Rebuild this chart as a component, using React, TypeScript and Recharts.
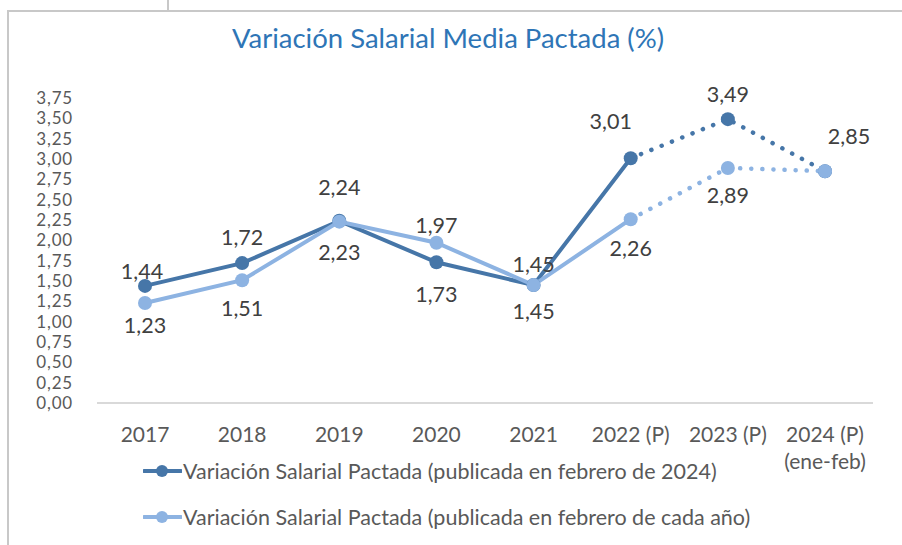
import { LineChart, Line, XAxis, YAxis, LabelList } from "recharts";

const categories = ["2017", "2018", "2019", "2020", "2021", "2022 (P)", "2023 (P)", "2024 (P)\n(ene-feb)"];
const publishedFeb2024 = [1.44, 1.72, 2.24, 1.73, 1.45, 3.01, 3.49, 2.85];
const publishedEachFeb = [1.23, 1.51, 2.23, 1.97, 1.45, 2.26, 2.89, 2.85];
const yTicks = [0, 0.25, 0.5, 0.75, 1, 1.25, 1.5, 1.75, 2, 2.25, 2.5, 2.75, 3, 3.25, 3.5, 3.75];
const lastActual = 5; // index of 2022: from here the line turns dotted

const DARK = "#4676A8";
const LIGHT = "#8DB3E2";
const TEXT = "#404040";
const FONT = "Lato, 'Open Sans', sans-serif";

const data = categories.map((cat, i) => ({
  cat,
  dark: publishedFeb2024[i],
  darkSolid: i <= lastActual ? publishedFeb2024[i] : null,
  darkDot: i >= lastActual ? publishedFeb2024[i] : null,
  light: publishedEachFeb[i],
  lightSolid: i <= lastActual ? publishedEachFeb[i] : null,
  lightDot: i >= lastActual ? publishedEachFeb[i] : null,
}));

// label nudges (dx, dy from the point), like the hand-placed excel labels
const darkLabelShift: [number, number][] = [
  [-3, -15], [0, -26], [0, -34], [0, 32], [0, -21], [-20, -37], [0, -25], [24, -35],
];
const lightLabelShift: ([number, number] | null)[] = [
  [0, 22], [0, 28], [0, 30], [0, -18], [0, 26], [0, 29], [0, 27], null,
];

const fmt = (v: number) => v.toFixed(2).replace(".", ",");

const makeLabel = (shifts: ([number, number] | null)[]) => (props: any) => {
  const { x, y, value, index } = props;
  const s = shifts[index];
  if (!s || value == null) return null;
  return (
    <text
      x={x + s[0]}
      y={y + s[1]}
      textAnchor="middle"
      dominantBaseline="central"
      fontSize={21.5}
      fontFamily={FONT}
      fill={TEXT}
    >
      {fmt(value)}
    </text>
  );
};

const XTick = (props: any) => {
  const { x, y, payload } = props;
  const lines = String(payload.value).split("\n");
  return (
    <text x={x} y={y} textAnchor="middle" fontSize={21} fontFamily={FONT} fill="#595959">
      {lines.map((l, i) => (
        <tspan key={i} x={x} dy={i === 0 ? "0.71em" : "1.3em"}>
          {l}
        </tspan>
      ))}
    </text>
  );
};

const LegendRow = ({ color, label, top }: { color: string; label: string; top: number }) => (
  <div style={{ position: "absolute", left: 143, top, height: 24, display: "flex", alignItems: "center" }}>
    <svg width={39} height={24} style={{ flex: "none" }}>
      <line x1={1} y1={12} x2={38} y2={12} stroke={color} strokeWidth={4} strokeLinecap="round" />
      <circle cx={19} cy={12} r={6} fill={color} />
    </svg>
    <span style={{ fontFamily: FONT, fontSize: 21.5, color: "#595959", marginLeft: 1, whiteSpace: "nowrap" }}>
      {label}
    </span>
  </div>
);

export default function App() {
  return (
    <div style={{ position: "absolute", left: 0, top: 0, width: 902, height: 545, background: "#fff", overflow: "hidden" }}>
      {/* frame lines */}
      <div style={{ position: "absolute", left: 7, top: 10, width: 900, height: 540, borderLeft: "2px solid #C8C8C8", borderTop: "2px solid #C8C8C8" }} />
      <div style={{ position: "absolute", left: 167, top: 0, width: 2, height: 11, background: "#C8C8C8" }} />

      <div
        style={{
          position: "absolute",
          left: 0,
          width: 896,
          top: 24,
          textAlign: "center",
          fontFamily: FONT,
          fontSize: 27.5,
          lineHeight: "27.5px",
          color: "#2E75B6",
          whiteSpace: "nowrap",
        }}
      >
        Variación Salarial Media Pactada (%)
      </div>

      <LineChart width={902} height={545} data={data} margin={{ top: 98, right: 29, bottom: 82, left: 0 }}>
        <XAxis
          dataKey="cat"
          interval={0}
          padding={{ left: 48, right: 48 }}
          axisLine={{ stroke: "#D9D9D9", strokeWidth: 2 }}
          tickLine={false}
          tickSize={6}
          tickMargin={18}
          height={60}
          tick={<XTick />}
        />
        <YAxis
          width={97}
          domain={[0, 3.75]}
          ticks={yTicks}
          interval={0}
          axisLine={false}
          tickLine={false}
          tickMargin={18}
          tickFormatter={fmt}
          tick={{ fontSize: 17, fontFamily: FONT, fill: "#595959", letterSpacing: 0.8 }}
        />

        <Line dataKey="darkSolid" stroke={DARK} strokeWidth={4} dot={false} activeDot={false} isAnimationActive={false} />
        <Line
          dataKey="darkDot"
          stroke={DARK}
          strokeWidth={4.5}
          strokeDasharray="0.1 11"
          strokeLinecap="round"
          dot={false}
          activeDot={false}
          isAnimationActive={false}
        />
        <Line dataKey="dark" stroke="none" dot={{ r: 7, fill: DARK, stroke: DARK, strokeWidth: 0 }} activeDot={false} isAnimationActive={false}>
          <LabelList dataKey="dark" content={makeLabel(darkLabelShift)} />
        </Line>

        <Line dataKey="lightSolid" stroke={LIGHT} strokeWidth={4} dot={false} activeDot={false} isAnimationActive={false} />
        <Line
          dataKey="lightDot"
          stroke={LIGHT}
          strokeWidth={4.5}
          strokeDasharray="0.1 11"
          strokeLinecap="round"
          dot={false}
          activeDot={false}
          isAnimationActive={false}
        />
        <Line dataKey="light" stroke="none" dot={{ r: 7, fill: LIGHT, stroke: LIGHT, strokeWidth: 0 }} activeDot={false} isAnimationActive={false}>
          <LabelList dataKey="light" content={makeLabel(lightLabelShift)} />
        </Line>
      </LineChart>

      <LegendRow color={DARK} label="Variación Salarial Pactada (publicada en febrero de 2024)" top={459} />
      <LegendRow color={LIGHT} label="Variación Salarial Pactada (publicada en febrero de cada año)" top={505} />
    </div>
  );
}
